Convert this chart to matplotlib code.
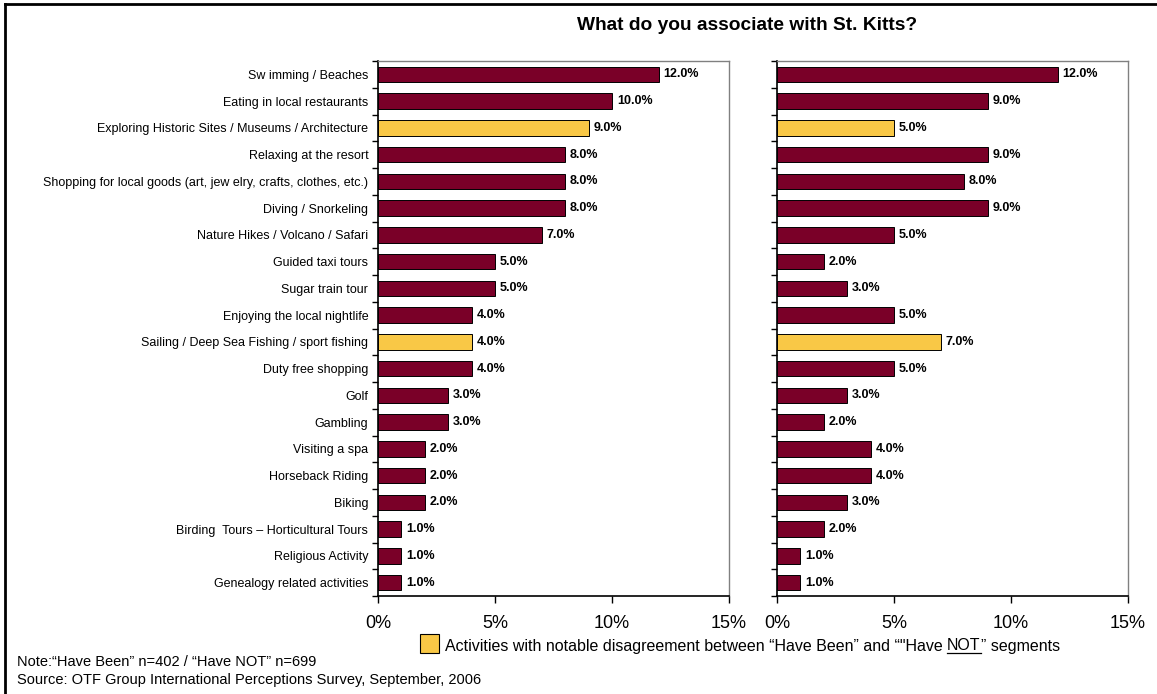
import matplotlib
matplotlib.use("Agg")
import matplotlib.pyplot as plt
import numpy as np
from matplotlib.lines import Line2D
from matplotlib.patches import Rectangle

plt.rcParams['font.family'] = ['Liberation Sans', 'DejaVu Sans']

activities = [
    "Sw imming / Beaches",
    "Eating in local restaurants",
    "Exploring Historic Sites / Museums / Architecture",
    "Relaxing at the resort",
    "Shopping for local goods (art, jew elry, crafts, clothes, etc.)",
    "Diving / Snorkeling",
    "Nature Hikes / Volcano / Safari",
    "Guided taxi tours",
    "Sugar train tour",
    "Enjoying the local nightlife",
    "Sailing / Deep Sea Fishing / sport fishing",
    "Duty free shopping",
    "Golf",
    "Gambling",
    "Visiting a spa",
    "Horseback Riding",
    "Biking",
    "Birding  Tours \u2013 Horticultural Tours",
    "Religious Activity",
    "Genealogy related activities",
]
have_been = [12, 10, 9, 8, 8, 8, 7, 5, 5, 4, 4, 4, 3, 3, 2, 2, 2, 1, 1, 1]
have_not = [12, 9, 5, 9, 8, 9, 5, 2, 3, 5, 7, 5, 3, 2, 4, 4, 3, 2, 1, 1]
disagreement = [2, 10]
x_ticks = [0, 5, 10, 15]

maroon = "#7A0028"
gold = "#F9C846"
colors = [gold if i in disagreement else maroon for i in range(len(activities))]

W, H = 1157, 694
fig = plt.figure(figsize=(W / 100, H / 100), dpi=100)
ax1 = fig.add_axes([378 / W, 1 - 596 / H, (729 - 378) / W, (596 - 61) / H])
ax2 = fig.add_axes([777 / W, 1 - 596 / H, (1128 - 777) / W, (596 - 61) / H])

y = np.arange(len(activities))
for ax, vals in [(ax1, have_been), (ax2, have_not)]:
    ax.barh(y, vals, height=0.58, color=colors, edgecolor="black", linewidth=0.7, zorder=3)
    for yi, v in zip(y, vals):
        ax.annotate(f"{v:.1f}%", (v, yi), xytext=(3.5, 0), textcoords="offset points",
                    va="center", ha="left", fontsize=9, fontweight="bold")
    ax.set_xlim(0, 15)
    ax.set_ylim(len(activities) - 0.5, -0.5)
    ax.set_xticks(x_ticks)
    ax.set_xticklabels([f"{t}%" for t in x_ticks], fontsize=13)
    ax.tick_params(axis="x", direction="out", length=5, width=1, pad=9)
    ax.set_yticks(y)
    ax.set_yticks(np.arange(len(activities) + 1) - 0.5, minor=True)
    ax.tick_params(axis="y", which="major", length=0, pad=7)
    ax.tick_params(axis="y", which="minor", direction="out", length=4, width=1)
    ax.spines["left"].set_color("black")
    ax.spines["bottom"].set_color("black")
    ax.spines["left"].set_linewidth(1.2)
    ax.spines["bottom"].set_linewidth(1.2)
    ax.spines["top"].set_color("#808080")
    ax.spines["right"].set_color("#808080")
    ax.spines["top"].set_linewidth(1.0)
    ax.spines["right"].set_linewidth(1.0)

ax1.set_yticklabels(activities, fontsize=9)
ax2.set_yticklabels([])

fig.text(747 / W, 1 - 30 / H, "What do you associate with St. Kitts?",
         ha="center", va="baseline", fontsize=13.8, fontweight="bold")

# outer frame (top and left edges)
fig.add_artist(Line2D([5 / W, 1], [1 - 4 / H, 1 - 4 / H], color="black", lw=2,
                      transform=fig.transFigure))
fig.add_artist(Line2D([5 / W, 5 / W], [0, 1 - 4 / H], color="black", lw=2,
                      transform=fig.transFigure))

# legend swatch and text with underlined NOT
fig.add_artist(Rectangle((420 / W, 1 - 653 / H), 19 / W, 19 / H,
                         facecolor=gold, edgecolor="black", lw=0.8, transform=fig.transFigure))
ly = 1 - 646 / H
t1 = fig.text(445 / W, ly, "Activities with notable disagreement between \u201cHave Been\u201d and \u201c\"Have ",
              ha="left", va="center", fontsize=11.5)
fig.canvas.draw()
r = fig.canvas.get_renderer()
bb1 = t1.get_window_extent(r)
t2 = fig.text(bb1.x1 / W, ly, "NOT", ha="left", va="center", fontsize=11.5)
bb2 = t2.get_window_extent(r)
fig.add_artist(Line2D([bb2.x0 / W, bb2.x1 / W], [(bb2.y0 + 1) / H] * 2,
                      color="black", lw=0.9, transform=fig.transFigure))
fig.text(bb2.x1 / W, ly, "\u201d segments", ha="left", va="center", fontsize=11.5)

fig.text(17 / W, 1 - 662 / H, "Note:\u201cHave Been\u201d n=402 / \u201cHave NOT\u201d n=699",
         ha="left", va="center", fontsize=10.5)
fig.text(17 / W, 1 - 680 / H, "Source: OTF Group International Perceptions Survey, September, 2006",
         ha="left", va="center", fontsize=10.5)

fig.savefig("out.png", dpi=100)
